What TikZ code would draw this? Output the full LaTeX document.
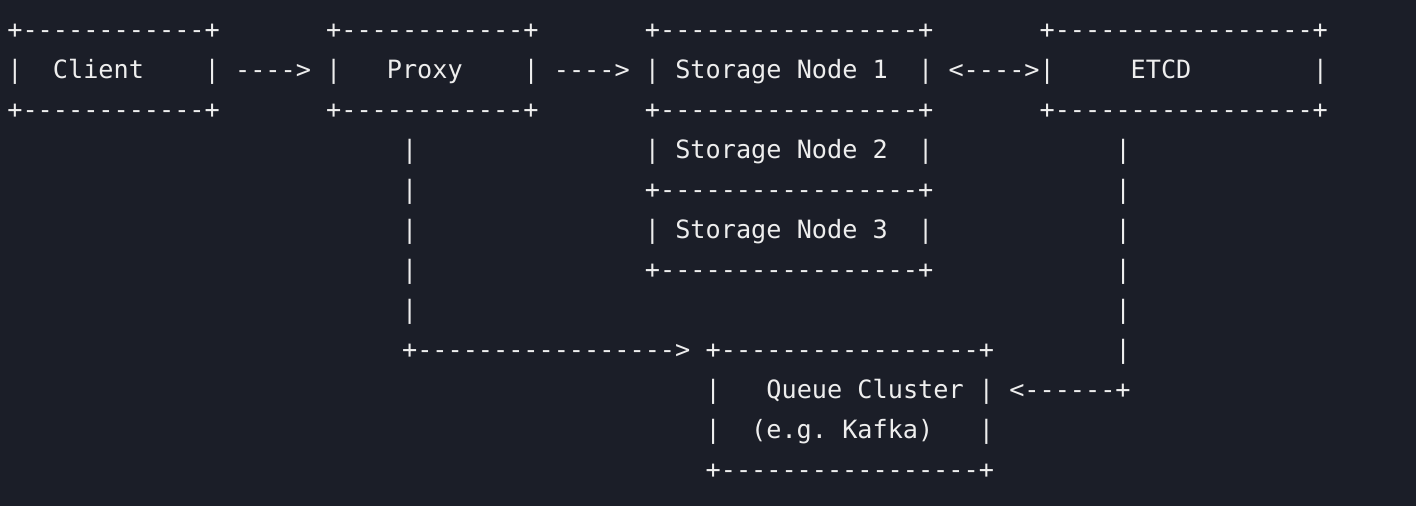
\documentclass[tikz,border=0pt]{standalone}
\usepackage{fontspec}
\setmonofont{DejaVu Sans Mono}
\definecolor{bgcol}{RGB}{27,30,40}
\definecolor{fgcol}{RGB}{238,238,238}
\tikzset{
  glyph/.style={anchor=base west, inner sep=0pt, outer sep=0pt, text=fgcol,
    font=\ttfamily\fontsize{25.2}{30}\selectfont}
}
% place text #4 named #1 at column #2, row #3
\newcommand\gl[4]{\node[glyph] (#1) at ({7.4+#2*15.18},{-(38+(#3-1)*40)}) {#4};}
\begin{document}
\begin{tikzpicture}[x=1pt,y=1pt]
\useasboundingbox (0,0) rectangle (1416,-506);
\fill[bgcol] (0,0) rectangle (1416,-506);
% row 1
\gl{clientTop}{0}{1}{+------------+}
\gl{proxyTop}{21}{1}{+------------+}
\gl{sOneTop}{42}{1}{+-----------------+}
\gl{etcdTop}{68}{1}{+-----------------+}
% row 2
\gl{clientL}{0}{2}{|}
\gl{clientT}{3}{2}{Client}
\gl{clientR}{13}{2}{|}
\gl{arrA}{15}{2}{---->}
\gl{proxyL}{21}{2}{|}
\gl{proxyT}{25}{2}{Proxy}
\gl{proxyR}{34}{2}{|}
\gl{arrB}{36}{2}{---->}
\gl{sOneL}{42}{2}{|}
\gl{sOneA}{44}{2}{Storage}
\gl{sOneB}{52}{2}{Node}
\gl{sOneC}{57}{2}{1}
\gl{sOneR}{60}{2}{|}
\gl{arrC}{62}{2}{<---->}
\gl{etcdL}{68}{2}{|}
\gl{etcdT}{74}{2}{ETCD}
\gl{etcdR}{86}{2}{|}
% row 3
\gl{clientBot}{0}{3}{+------------+}
\gl{proxyBot}{21}{3}{+------------+}
\gl{sOneBot}{42}{3}{+-----------------+}
\gl{etcdBot}{68}{3}{+-----------------+}
% row 4
\gl{pv4}{26}{4}{|}
\gl{sTwoL}{42}{4}{|}
\gl{sTwoA}{44}{4}{Storage}
\gl{sTwoB}{52}{4}{Node}
\gl{sTwoC}{57}{4}{2}
\gl{sTwoR}{60}{4}{|}
\gl{ev4}{73}{4}{|}
% row 5
\gl{pv5}{26}{5}{|}
\gl{sTwoBot}{42}{5}{+-----------------+}
\gl{ev5}{73}{5}{|}
% row 6
\gl{pv6}{26}{6}{|}
\gl{sThrL}{42}{6}{|}
\gl{sThrA}{44}{6}{Storage}
\gl{sThrB}{52}{6}{Node}
\gl{sThrC}{57}{6}{3}
\gl{sThrR}{60}{6}{|}
\gl{ev6}{73}{6}{|}
% row 7
\gl{pv7}{26}{7}{|}
\gl{sThrBot}{42}{7}{+-----------------+}
\gl{ev7}{73}{7}{|}
% row 8
\gl{pv8}{26}{8}{|}
\gl{ev8}{73}{8}{|}
% row 9
\gl{arrD}{26}{9}{+----------------->}
\gl{queueTop}{46}{9}{+-----------------+}
\gl{ev9}{73}{9}{|}
% row 10
\gl{queueL}{46}{10}{|}
\gl{queueA}{50}{10}{Queue}
\gl{queueB}{56}{10}{Cluster}
\gl{queueR}{64}{10}{|}
\gl{arrE}{66}{10}{<------+}
% row 11
\gl{queueL2}{46}{11}{|}
\gl{kafkaA}{49}{11}{(e.g.}
\gl{kafkaB}{55}{11}{Kafka)}
\gl{queueR2}{64}{11}{|}
% row 12
\gl{queueBot}{46}{12}{+-----------------+}
\end{tikzpicture}
\end{document}
